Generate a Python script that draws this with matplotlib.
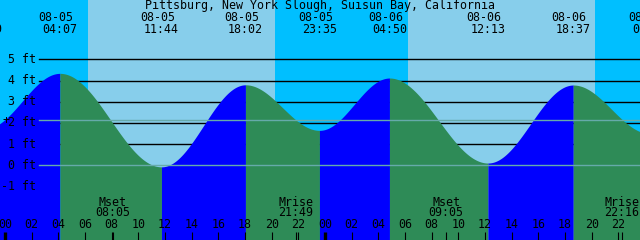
import numpy as np
import matplotlib
matplotlib.use("Agg")
import matplotlib.pyplot as plt
from matplotlib.transforms import blended_transform_factory, offset_copy

# ---------------- data ----------------
title = "Pittsburg, New York Slough, Suisun Bay, California"

tide_dates = ["08-04", "08-05", "08-05", "08-05", "08-05", "08-06", "08-06", "08-06", "08-07"]
tide_times = ["22:29", "04:07", "11:44", "18:02", "23:35", "04:50", "12:13", "18:37", "00:22"]
tide_heights = [1.72, 4.34, -0.07, 3.80, 1.65, 4.12, 0.11, 3.79, 1.50]

sunrise_times = ["06:13", "06:14"]   # Aug 5, Aug 6
sunset_times = ["20:15", "20:13"]    # Aug 5, Aug 6

moon_labels = ["Mset", "Mrise", "Mset", "Mrise"]
moon_dates = ["08-05", "08-05", "08-06", "08-06"]
moon_times = ["08:05", "21:49", "09:05", "22:16"]

ft_levels = [-1, 0, 1, 2, 3, 4, 5]
mean_sea_level = 2.12
hour_labels = ["00", "02", "04", "06", "08", "10", "12", "14", "16", "18", "20", "22"]

# ---------------- helpers ----------------
day_index = {"08-04": -1, "08-05": 0, "08-06": 1, "08-07": 2}


def to_hours(date, hm):
    h, m = hm.split(":")
    return day_index[date] * 24 + int(h) + int(m) / 60.0


tide_t = [to_hours(d, t) for d, t in zip(tide_dates, tide_times)]
moon_t = [to_hours(d, t) for d, t in zip(moon_dates, moon_times)]
sunrise_t = [to_hours(d, t) for d, t in zip(["08-05", "08-06"], sunrise_times)]
sunset_t = [to_hours(d, t) for d, t in zip(["08-05", "08-06"], sunset_times)]

NIGHT = "#00BFFF"
DAY = "#87CEEB"
FLOOD = "#0000FF"
EBB = "#2E8B57"
MARK = "#66aaaa"

W, H = 640, 240
fig = plt.figure(figsize=(W / 100, H / 100), dpi=100)
ax = fig.add_axes([0, 0, 1, 1])
ax.set_axis_off()
xmin, xmax = -0.375, 47.625
ymin, ymax = -3.52, 7.80
ax.set_xlim(xmin, xmax)
ax.set_ylim(ymin, ymax)

FONT = dict(family="DejaVu Sans Mono", fontsize=8.4, color="black")

# day / night background
edges = [xmin, sunrise_t[0], sunset_t[0], sunrise_t[1], sunset_t[1], xmax]
for i in range(len(edges) - 1):
    ax.axvspan(edges[i], edges[i + 1], color=NIGHT if i % 2 == 0 else DAY, lw=0, zorder=0)

# foot grid lines (behind tide)
xg = 39 / W
for lv in ft_levels:
    if lv <= 0:
        continue
    ax.axhline(lv, xmin=xg, xmax=1, color="black", lw=1.0, zorder=1)

# tide curve
for i in range(len(tide_t) - 1):
    t0, t1 = tide_t[i], tide_t[i + 1]
    h0, h1 = tide_heights[i], tide_heights[i + 1]
    s = np.linspace(0, 1, 200)
    tt = t0 + (t1 - t0) * s
    hh = h0 + (h1 - h0) * (1 - np.cos(np.pi * s)) / 2
    col = FLOOD if h1 > h0 else EBB
    ax.fill_between(tt, hh, ymin - 1, color=col, lw=0, zorder=2)

# datum and mean sea level lines
ax.axhline(0, xmin=xg, xmax=1, color=MARK, lw=1.0, zorder=3)
ax.axhline(mean_sea_level, xmin=xg, xmax=1, color=MARK, lw=1.0, zorder=3)

# y labels
ytr = blended_transform_factory(ax.transAxes, ax.transData)
for lv in ft_levels:
    ax.text(36 / W, lv, f"{lv} ft", ha="right", va="center", transform=ytr, zorder=5, **FONT)
ax.text(6 / W, mean_sea_level, "+", ha="center", va="center", transform=ytr, zorder=5, **FONT)

# top labels
xtr = blended_transform_factory(ax.transData, ax.transAxes)
ax.text(0.5, 1 - 6 / H, title, ha="center", va="center", transform=ax.transAxes, zorder=5, **FONT)
date_tr = offset_copy(xtr, fig=fig, x=-4, y=0, units="dots")
for t, d, tm in zip(tide_t, tide_dates, tide_times):
    ax.text(t, 1 - 17.5 / H, d, ha="center", va="center", transform=date_tr, zorder=5, **FONT)
    ax.text(t, 1 - 29.5 / H, tm, ha="center", va="center", transform=xtr, zorder=5, **FONT)

# moon labels
for t, lab, tm in zip(moon_t, moon_labels, moon_times):
    ax.text(t, 1 - 202 / H, lab, ha="center", va="center", transform=xtr, zorder=5, **FONT)
    ax.text(t, 1 - 213 / H, tm, ha="center", va="center", transform=xtr, zorder=5, **FONT)
    ax.plot([t, t], [0, 8 / H], color="black", lw=0.8, transform=xtr, zorder=5, solid_capstyle="butt")

# hour ticks and labels
for day in range(2):
    for k, lab in enumerate(hour_labels):
        t = day * 24 + k * 2
        ax.text(t, 1 - 225 / H, lab, ha="center", va="center", transform=xtr, zorder=5, **FONT)
        lw = 2.4 if k == 0 else 0.8
        ax.plot([t, t], [0, 8 / H], color="black", lw=lw, transform=xtr, zorder=5, solid_capstyle="butt")

fig.savefig("out.png", dpi=100)
